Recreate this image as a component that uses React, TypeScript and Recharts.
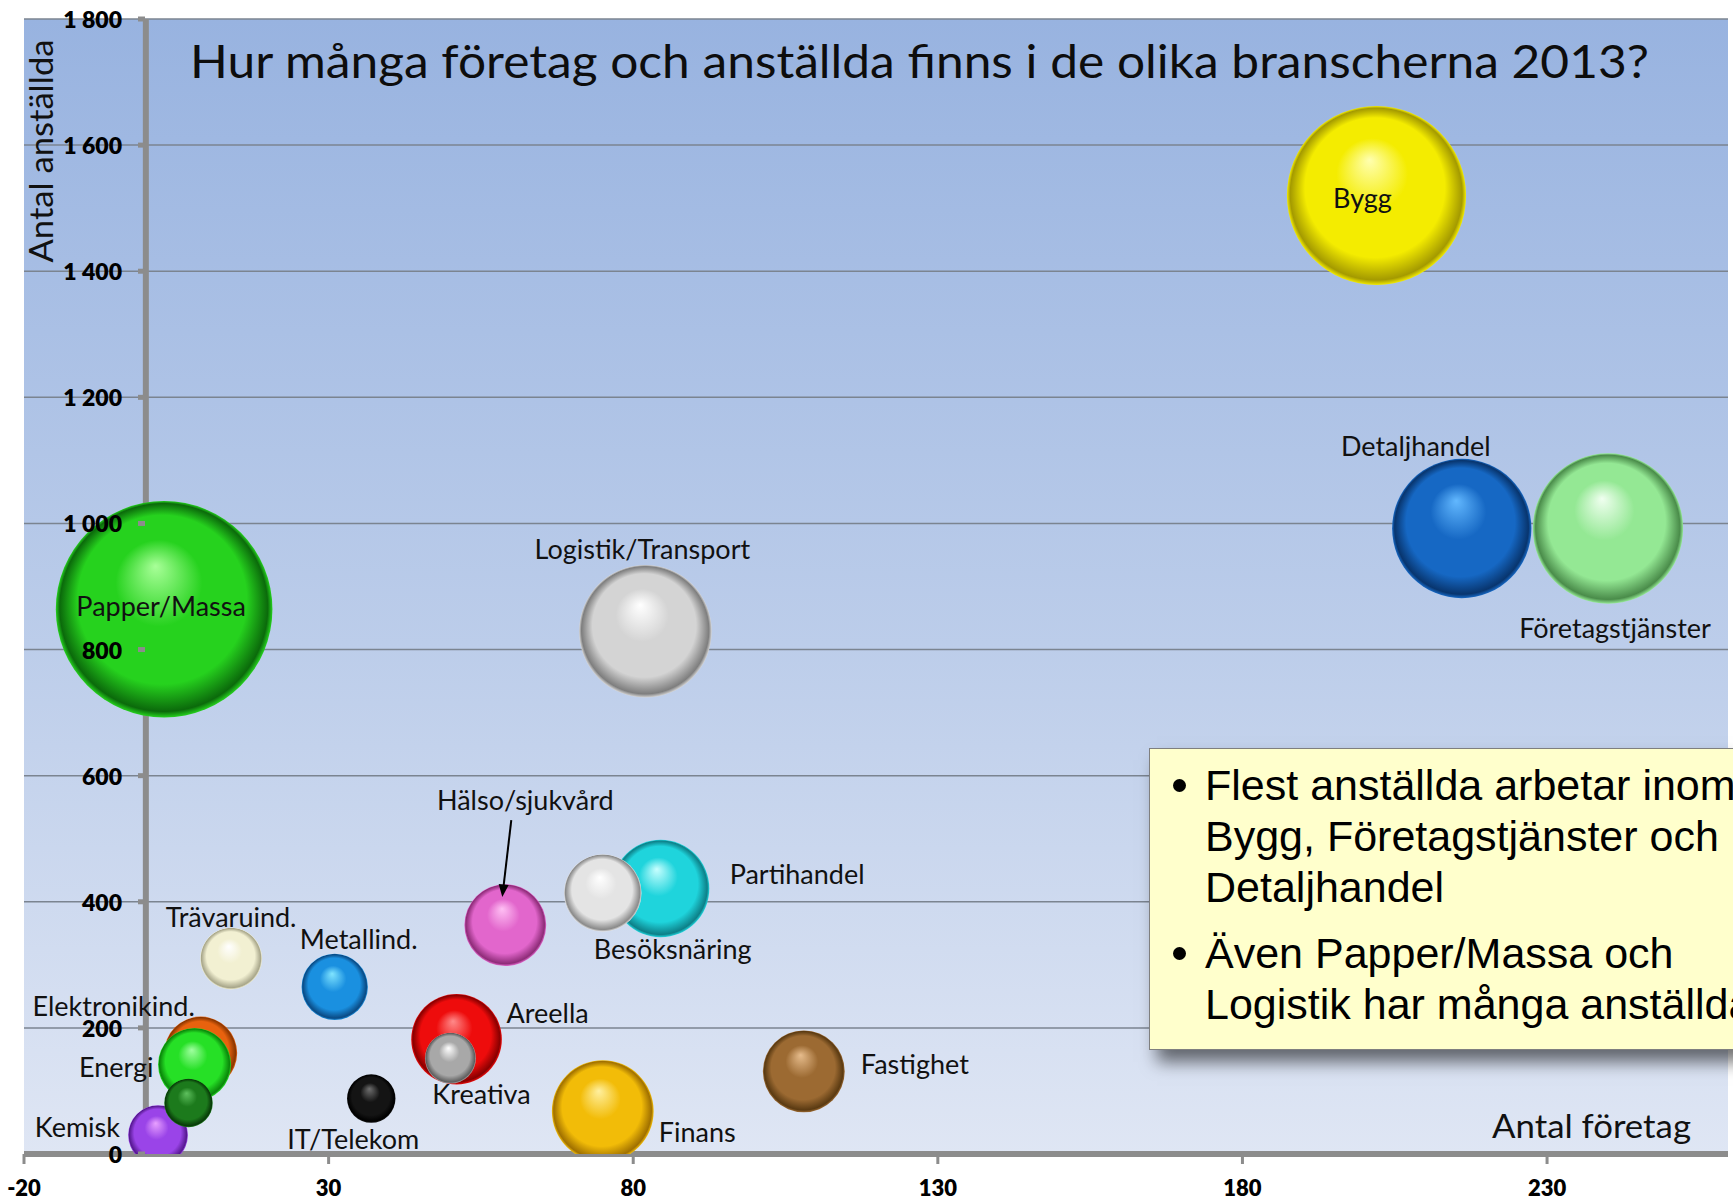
import React from 'react';
import { ScatterChart, Scatter, XAxis, YAxis, ZAxis, CartesianGrid, ReferenceLine, LabelList } from 'recharts';

// Antal företag (x), antal anställda (y), bubbelstorlek (z)
const sectors = [
  'Papper/Massa', 'Bygg', 'Detaljhandel', 'Företagstjänster', 'Logistik/Transport',
  'Finans', 'Partihandel', 'Areella', 'Hälso/sjukvård', 'Fastighet', 'Besöksnäring',
  'Elektronikind.', 'Energi', 'Metallind.', 'Trävaruind.', 'Kemisk', '', 'Kreativa', 'IT/Telekom',
];
const companies = [3, 202, 216, 240, 82, 75, 84.5, 51, 59, 108, 75, 9, 8, 31, 14, 2, 7, 50, 37];
const employees = [864, 1520, 992, 992, 829, 68, 421, 182, 363, 131, 414, 160, 142, 265, 310, 30, 81, 152, 88];
const sizes = [96, 65.6, 39.7, 46.2, 36, 21.2, 19.4, 16.8, 13.7, 13.7, 12.3, 10.9, 10.9, 9, 7.8, 7.3, 4.8, 5.3, 4.8];

const xTicks = [-20, 30, 80, 130, 180, 230];
const yTicks = [0, 200, 400, 600, 800, 1000, 1200, 1400, 1600, 1800];

const title = 'Hur många företag och anställda finns i de olika branscherna 2013?';
const bullets = [
  ['Flest anställda arbetar inom', 'Bygg, Företagstjänster och', 'Detaljhandel'],
  ['Även Papper/Massa och', 'Logistik har många anställda'],
];

// [highlight, base, edge]
const palette = [
  ['#a8ff98', '#26d21e', '#0b6a0b'],
  ['#ffffb0', '#f4ec00', '#a49a00'],
  ['#62b8ff', '#1668c4', '#08356e'],
  ['#f0fff0', '#94e894', '#4a8c4a'],
  ['#ffffff', '#d4d4d4', '#7e7e7e'],
  ['#fff0a0', '#f2bc08', '#a07000'],
  ['#c8ffff', '#1fd4dc', '#0d8088'],
  ['#ff8a8a', '#ee0c0c', '#880000'],
  ['#ffc0f4', '#e266cc', '#8e2c78'],
  ['#e6bc8c', '#9c6a32', '#5a3a12'],
  ['#ffffff', '#e4e4e4', '#8a8a8a'],
  ['#ffb070', '#e8620e', '#8a3600'],
  ['#a0ffa0', '#26e026', '#0a860a'],
  ['#80e4ff', '#1a90e0', '#0a4a84'],
  ['#ffffff', '#f2f0d2', '#a8a68a'],
  ['#e8a0ff', '#9a44e8', '#561890'],
  ['#5ec05e', '#1c7a1c', '#083a08'],
  ['#ffffff', '#a8a8a8', '#5e5e5e'],
  ['#707070', '#141414', '#000000'],
];

const labelPlacement: Record<string, { dx: number; dy: number; anchor: 'start' | 'middle' | 'end' }> = {
  'Bygg': { dx: -14, dy: 2, anchor: 'middle' },
  'Detaljhandel': { dx: -46, dy: -83, anchor: 'middle' },
  'Företagstjänster': { dx: 7, dy: 99, anchor: 'middle' },
  'Papper/Massa': { dx: -3, dy: -4, anchor: 'middle' },
  'Logistik/Transport': { dx: -3, dy: -83, anchor: 'middle' },
  'Hälso/sjukvård': { dx: 20, dy: -126, anchor: 'middle' },
  'Partihandel': { dx: 69, dy: -15, anchor: 'start' },
  'Besöksnäring': { dx: 70, dy: 56, anchor: 'middle' },
  'Trävaruind.': { dx: 0, dy: -42, anchor: 'middle' },
  'Metallind.': { dx: 24, dy: -48, anchor: 'middle' },
  'Elektronikind.': { dx: -87, dy: -48, anchor: 'middle' },
  'Energi': { dx: -41, dy: 2, anchor: 'end' },
  'Kemisk': { dx: -38, dy: -9, anchor: 'end' },
  'Areella': { dx: 50, dy: -27, anchor: 'start' },
  'Kreativa': { dx: 31, dy: 35, anchor: 'middle' },
  'IT/Telekom': { dx: -18, dy: 40, anchor: 'middle' },
  'Finans': { dx: 56, dy: 20, anchor: 'start' },
  'Fastighet': { dx: 57, dy: -8, anchor: 'start' },
};

const W = 1733;
const H = 1200;
const FONT = 'Lato, "Open Sans", sans-serif';
const AXIS_GRAY = '#8c8c8c';

const points = sectors.map((name, i) => ({ name, x: companies[i], y: employees[i], z: sizes[i], idx: i }));

const fmtThousands = (v: number) => (v >= 1000 ? `${Math.floor(v / 1000)}\u00a0${String(v % 1000).padStart(3, '0')}` : String(v));

const Sphere = (props: any) => {
  const { cx, cy, payload } = props;
  const r = props.width ? props.width / 2 : Math.sqrt((props.size || 0) / Math.PI);
  const c = palette[payload.idx];
  const id = `sphere-${payload.idx}`;
  return (
    <g>
      <defs>
        <radialGradient id={id} cx="50%" cy="50%" r="50%" fx="46%" fy="30%">
          <stop offset="0%" stopColor={c[0]} />
          <stop offset="40%" stopColor={c[1]} />
          <stop offset="78%" stopColor={c[1]} />
          <stop offset="96%" stopColor={c[2]} />
          <stop offset="100%" stopColor={c[1]} />
        </radialGradient>
      </defs>
      <circle cx={cx} cy={cy} r={r} fill={`url(#${id})`} />
    </g>
  );
};

const BubbleLabel = (props: any) => {
  const name = props.value as string;
  const place = labelPlacement[name];
  if (!name || !place) return null;
  const vb = props.viewBox && props.viewBox.width != null ? props.viewBox : props;
  const cx = vb.x + vb.width / 2;
  const cy = vb.y + vb.height / 2;
  return (
    <g>
      <text
        x={cx + place.dx}
        y={cy + place.dy}
        textAnchor={place.anchor}
        dominantBaseline="central"
        fontFamily={FONT}
        fontSize={27}
        fill="#111"
      >
        {name}
      </text>
      {name === 'Hälso/sjukvård' && (
        <g>
          <line x1={cx + 6} y1={cy - 105} x2={cx - 1.6} y2={cy - 40} stroke="#000" strokeWidth={2} />
          <polygon points={`${cx - 3},${cy - 28} ${cx + 3.4},${cy - 40} ${cx - 6.6},${cy - 41}`} fill="#000" />
        </g>
      )}
    </g>
  );
};

const YTick = (props: any) => {
  const { x, y, payload } = props;
  return (
    <g>
      <line x1={x + 114} x2={x + 121} y1={y} y2={y} stroke={AXIS_GRAY} strokeWidth={5} />
      <text x={x + 98} y={y} textAnchor="end" dominantBaseline="central" fontFamily={FONT} fontWeight={800} fontSize={23} fill="#000">
        {fmtThousands(payload.value)}
      </text>
    </g>
  );
};

const App: React.FC = () => {
  return (
    <div style={{ position: 'absolute', left: 0, top: 0, width: W, height: H, overflow: 'hidden', background: '#fff' }}>
      <ScatterChart width={W} height={H} margin={{ top: 19, right: 5, bottom: 6, left: 23 }}>
        <defs>
          <linearGradient id="plotBg" x1="0" y1="0" x2="0" y2="1">
            <stop offset="0%" stopColor="#98b3e0" />
            <stop offset="55%" stopColor="#bccdea" />
            <stop offset="100%" stopColor="#dfe6f4" />
          </linearGradient>
        </defs>
        <CartesianGrid vertical={false} fill="url(#plotBg)" fillOpacity={1} stroke="#7b8490" strokeWidth={1.5} />
        <ReferenceLine x={0} stroke={AXIS_GRAY} strokeWidth={6} />
        <ZAxis type="number" dataKey="z" domain={[0, 100]} range={[0, 38390]} />
        <Scatter data={points} shape={Sphere} isAnimationActive={false}>
          <LabelList dataKey="name" content={BubbleLabel} />
        </Scatter>
        <XAxis
          type="number"
          dataKey="x"
          domain={[-20, 259.7]}
          ticks={xTicks}
          interval={0}
          allowDataOverflow
          height={40}
          axisLine={{ stroke: AXIS_GRAY, strokeWidth: 6 }}
          tickLine={{ stroke: AXIS_GRAY, strokeWidth: 3 }}
          tickSize={10}
          tickMargin={16}
          tick={{ fill: '#000', fontSize: 22, fontWeight: 800, fontFamily: FONT }}
        />
        <YAxis
          type="number"
          dataKey="y"
          domain={[0, 1800]}
          ticks={yTicks}
          interval={0}
          allowDataOverflow
          width={1}
          axisLine={false}
          tickLine={false}
          tickSize={0}
          tickMargin={0}
          tick={<YTick />}
        />
      </ScatterChart>

      <svg width={W} height={H} style={{ position: 'absolute', left: 0, top: 0, pointerEvents: 'none' }}>
        <text x={190} y={78} fontFamily={FONT} fontSize={46} fill="#0d0d0d" textLength={1459} lengthAdjust="spacingAndGlyphs">
          {title}
        </text>
        <text transform="translate(53,151) rotate(-90)" textAnchor="middle" fontFamily={FONT} fontSize={32} fill="#111" textLength={223} lengthAdjust="spacingAndGlyphs">
          Antal anställda
        </text>
        <text x={1492} y={1138} fontFamily={FONT} fontSize={32} fill="#111" textLength={199} lengthAdjust="spacingAndGlyphs">
          Antal företag
        </text>
      </svg>

      <div
        style={{
          position: 'absolute',
          left: 1149,
          top: 748,
          width: 700,
          height: 302,
          boxSizing: 'border-box',
          background: '#ffffcc',
          border: '1.5px solid #7f7f7f',
          boxShadow: '8px 12px 16px rgba(0,0,0,0.55)',
          paddingTop: 11,
          paddingLeft: 55,
          fontFamily: '"Liberation Sans", Arial, sans-serif',
          fontSize: 43,
          lineHeight: '51px',
          color: '#000',
          whiteSpace: 'nowrap',
        }}
      >
        {bullets.map((lines, i) => (
          <div key={i} style={{ position: 'relative', marginTop: i === 0 ? 0 : 15 }}>
            <span
              style={{
                position: 'absolute',
                left: -32,
                top: 19,
                width: 13,
                height: 13,
                borderRadius: '50%',
                background: '#000',
              }}
            />
            {lines.map((line, j) => (
              <div key={j}>{line}</div>
            ))}
          </div>
        ))}
      </div>
    </div>
  );
};

export default App;
